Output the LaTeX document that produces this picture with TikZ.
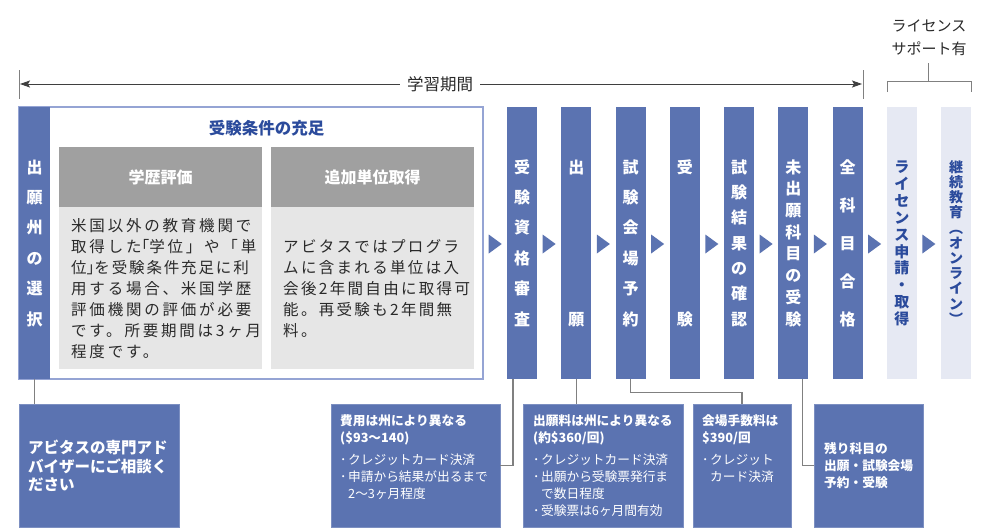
\documentclass[tikz,border=0pt]{standalone}
\usepackage{fontspec}
\setmainfont{Noto Sans CJK JP}
\newfontfamily\bodyfont{Noto Sans CJK JP}[LetterSpace=18]
\newfontfamily\bodyfontB{Noto Sans CJK JP}[LetterSpace=15]
\newfontfamily\bodyfontC{Noto Sans CJK JP}[LetterSpace=12]
\newfontfamily\brkfont{Noto Sans CJK JP}[LetterSpace=18,RawFeature=+halt]
\usetikzlibrary{calc,arrows.meta}
\definecolor{colblue}{HTML}{5B73B1}
\definecolor{lightcol}{HTML}{E6E9F3}
\definecolor{darkblue}{HTML}{2B4B9C}
\definecolor{boxborder}{HTML}{95A4D4}
\definecolor{hdrgray}{HTML}{A0A0A0}
\definecolor{bodygray}{HTML}{E6E6E6}
\definecolor{linegray}{HTML}{808080}
\definecolor{textdark}{HTML}{2A2A2A}
\newcommand\vstk[2]{{\fontsize{#1}{#1}\selectfont
  \vbox to \dimexpr152pt+1.05em\relax{\offinterlineskip
    \foreach \c [count=\i] in {#2}{\ifnum\i>1 \vfill\fi
      \hbox to 1.1em{\hss\vrule width 0pt height .9em depth .15em\c\hss}}%
    \kern0pt}}}
\newcommand\bul{\makebox[8pt][l]{･}}
\newcommand\ind{\hspace*{8pt}}
\newcommand\lbk{{\brkfont 「}}
\newcommand\rbk{{\brkfont 」}}
\begin{document}
\begin{tikzpicture}[x=1pt,y=-1pt,
  col/.style={fill=colblue, minimum width=30pt, minimum height=272pt, inner sep=0pt, text=white, font=\bfseries},
  lcol/.style={fill=lightcol, minimum width=30pt, minimum height=272pt, inner sep=0pt, text=darkblue, font=\bfseries},
  hdr/.style={fill=hdrgray, minimum width=203pt, minimum height=60pt, inner sep=0pt, text=white, font=\bfseries\fontsize{16}{16}\selectfont},
  pbody/.style={fill=bodygray, minimum width=203pt, minimum height=162pt, inner sep=0pt},
  ptext/.style={anchor=west, align=left, inner sep=0pt, text=textdark, font=\bodyfont\fontsize{15.5}{21}\selectfont},
  infobox/.style={fill=colblue, draw=colblue!80!white, line width=0.8pt, minimum height=123pt, inner sep=0pt},
  itext/.style={align=left, inner sep=0pt, text=white, font=\fontsize{12.7}{17}\selectfont},
  conn/.style={draw=linegray, line width=1.1pt},
  tri/.style={fill=colblue},
  dimline/.style={draw=textdark!90, line width=0.9pt},
  tip/.style={-{Stealth[length=10pt,width=7pt,inset=2pt]}}
]
\useasboundingbox[fill=white] (0,0) rectangle (1000,530);

% big box and left column
\node[draw=boxborder, line width=1.3pt, fill=white, minimum width=464pt, minimum height=272pt, inner sep=0pt] (big) at (251,243) {};
\node[col, minimum width=31pt] (c0) at (34.5,243) {\vstk{16}{出,願,州,の,選,択}};
\node[text=darkblue, font=\bfseries\fontsize{16.5}{16.5}\selectfont, inner sep=0pt] (title) at (266.5,128) {受験条件の充足};
\node[hdr] (h1) at (160.5,177) {学歴評価};
\node[hdr] (h2) at (372.5,177) {追加単位取得};
\node[pbody] (p1) at (160.5,288) {};
\node[pbody] (p2) at (372.5,288) {};
\node[ptext] (t1) at (71,289) {米国以外の教育機関で\\取得した\lbk 学位」や「単\\{\bodyfontC 位}\rbk{\bodyfontC を受験条件充足に利}\\用する場合、米国学歴\\評価機関の評価が必要\\です。所要期間は3ヶ月\\程度です。};
\node[ptext, font=\bodyfontB\fontsize{15.5}{21}\selectfont] (t2) at (283,289) {アビタスではプログラ\\ムに含まれる単位は入\\会後2年間自由に取得可\\能。再受験も2年間無\\料。};

% step columns
\node[col] (c1) at (522,243) {\vstk{16}{受,験,資,格,審,査}};
\node[col] (c2) at (576.25,243) {\vstk{16}{出,願}};
\node[col] (c3) at (630.5,243) {\vstk{16}{試,験,会,場,予,約}};
\node[col] (c4) at (684.75,243) {\vstk{16}{受,験}};
\node[col] (c5) at (739,243) {\vstk{16}{試,験,結,果,の,確,認}};
\node[col] (c6) at (793.25,243) {\vstk{16}{未,出,願,科,目,の,受,験}};
\node[col] (c7) at (847.5,243) {\vstk{16}{全,科,目,合,格}};
\node[lcol] (c8) at (901.75,243) {\vstk{15}{ラ,イ,セ,ン,ス,申,請,・,取,得}};
\node[lcol] (c9) at (956,243) {\vstk{14}{継,続,教,育,︵,オ,ン,ラ,イ,ン,︶}};

% triangles between steps
\foreach \a/\b in {big/c1,c1/c2,c2/c3,c3/c4,c4/c5,c5/c6,c6/c7,c7/c8,c8/c9}{
  \fill[tri] ($(\a.east)!0.5!(\b.west)+(-6.5,-8.5)$) -- ++(13,9.5) -- ++(-13,9.5) -- cycle;
}

% info boxes
\node[infobox, minimum width=160pt] (b0) at (99,465.5) {};
\node[infobox, minimum width=169pt] (b1) at (415.5,465.5) {};
\node[infobox, minimum width=160pt] (b2) at (603,465.5) {};
\node[infobox, minimum width=98pt] (b3) at (742,465.5) {};
\node[infobox, minimum width=109pt] (b4) at (868.5,465.5) {};

\node[itext, anchor=west, font=\bfseries\fontsize{15.5}{18.5}\selectfont] (bt0) at (28,466) {アビタスの専門アド\\バイザーにご相談く\\ださい};
\node[itext, anchor=north west] (bt1) at (340,414.5) {\textbf{費用は州により異なる}\\\textbf{(\$93〜140)}\\[5pt]\bul クレジットカード決済\\\bul 申請から結果が出るまで\\\ind 2〜3ヶ月程度};
\node[itext, anchor=north west] (bt2) at (533,414.5) {\textbf{出願料は州により異なる}\\\textbf{(約\$360/回)}\\[5pt]\bul クレジットカード決済\\\bul 出願から受験票発行ま\\\ind で数日程度\\\bul 受験票は6ヶ月間有効};
\node[itext, anchor=north west] (bt3) at (702,414.5) {\textbf{会場手数料は}\\\textbf{\$390/回}\\[5pt]\bul クレジット\\\ind カード決済};
\node[itext, anchor=west, font=\bfseries\fontsize{12.7}{17}\selectfont] (bt4) at (824,466) {残り科目の\\出願・試験会場\\予約・受験};

% connectors
\draw[conn] (c0.south) -- (c0.south |- b0.north);
\draw[conn] ([xshift=-9pt]c1.south) |- (b1.east);
\draw[conn] (c2.south) -- (c2.south |- b2.north);
\draw[conn] (c3.south) -- ++(0,13) -| (b3.north);
\draw[conn] ([xshift=9pt]c6.south) |- (b4.west);

% top dimension line
\node[font=\fontsize{16.5}{16.5}\selectfont, text=textdark, inner xsep=7pt, inner ysep=0pt] (lbl) at (440,84) {学習期間};
\coordinate (aL) at (20,84);
\coordinate (aR) at (862,84);
\draw[dimline, tip] (lbl.west) -- (aL);
\draw[dimline, tip] (lbl.east) -- (aR);
\draw[draw=linegray, line width=0.8pt] (19,70) -- (19,99);
\draw[draw=linegray, line width=0.8pt] (863,70) -- (863,99);

% license support bracket
\node[align=center, inner sep=0pt, text=textdark, font=\fontsize{15}{23}\selectfont] (lic) at (929,38) {ライセンス\\サポート有};
\coordinate (brk) at (928,63);
\draw[draw=linegray, line width=0.8pt] (887,92) -- (887,81) -- (971,81) -- (971,92);
\draw[draw=linegray, line width=0.8pt] (brk) -- (928,81);
\end{tikzpicture}
\end{document}
